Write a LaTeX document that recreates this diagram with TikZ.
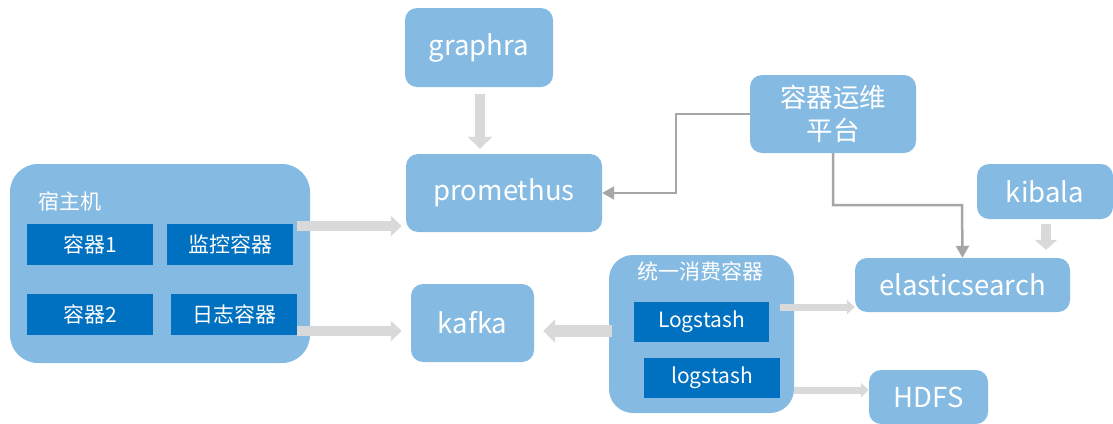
\documentclass[tikz,border=0pt]{standalone}
\usepackage{fontspec}
\setmainfont{Noto Sans CJK SC}
\usetikzlibrary{arrows.meta}
\definecolor{lb}{HTML}{85BBE2}
\definecolor{db}{HTML}{0070C0}
\definecolor{fa}{HTML}{D9D9D9}
\definecolor{dg}{HTML}{A6A6A6}
\tikzset{
  box/.style={fill=lb, rounded corners=12pt, text=white, inner sep=0pt, font=\fontsize{27.5}{30}\selectfont, align=center},
  bigbox/.style={fill=lb, rounded corners=28pt, inner sep=0pt},
  inbox/.style={fill=db, text=white, inner sep=0pt, font=\fontsize{21}{24}\selectfont},
  lbl/.style={text=white, inner sep=0pt, font=\fontsize{21}{24}\selectfont},
  fat/.style={draw=fa, line width=10pt, -{Triangle[length=11pt, width=20pt]}},
  thin/.style={draw=fa, line width=7pt, -{Triangle[length=8pt, width=14pt]}},
  conn/.style={draw=dg, line width=2.5pt, -{Triangle[length=12pt, width=13pt]}},
}
\begin{document}
\begin{tikzpicture}[x=1pt, y=-1pt]
\useasboundingbox (0,0) rectangle (1113,423);
% host
\node[bigbox, minimum width=300pt, minimum height=199pt] (host) at (160,263.5) {};
\node[lbl, anchor=west] (hostt) at (38,201) {宿主机};
\node[inbox, minimum width=126pt, minimum height=41pt] (c1) at (90,244.5) {容器1};
\node[inbox, minimum width=126pt, minimum height=41pt] (mon) at (230,244.5) {监控容器};
\node[inbox, minimum width=126pt, minimum height=41pt] (c2) at (90,314.5) {容器2};
\node[inbox, minimum width=126pt, minimum height=41pt] (log) at (234,314.5) {日志容器};
% top nodes
\node[box, minimum width=148pt, minimum height=79pt] (gra) at (479,47.5) {graphra};
\node[box, minimum width=196pt, minimum height=78pt] (prom) at (504,193) {promethus};
\node[box, minimum width=166pt, minimum height=78pt, font=\fontsize{26.5}{33}\selectfont] (ops) at (833,114) {容器运维\\平台};
\node[box, minimum width=136pt, minimum height=55pt] (kib) at (1045,191.5) {kibala};
\node[box, minimum width=215pt, minimum height=54pt] (es) at (962.5,285) {elasticsearch};
\node[box, minimum width=123pt, minimum height=78pt] (kafka) at (472.5,323) {kafka};
\node[box, minimum width=119pt, minimum height=54pt] (hdfs) at (928.5,397) {HDFS};
% consumer
\node[bigbox, rounded corners=24pt, minimum width=185pt, minimum height=158pt] (cons) at (701.5,334) {};
\node[lbl] (const) at (700,271) {统一消费容器};
\node[inbox, minimum width=135pt, minimum height=40pt] (l1) at (701.5,322) {Logstash};
\node[inbox, minimum width=136pt, minimum height=40pt] (l2) at (712,378) {logstash};
% arrows
\draw[fat, -{Triangle[length=12pt, width=24pt]}] ([xshift=1pt, yshift=-7pt]gra.south) -- ([xshift=1pt, yshift=5pt]gra.south |- prom.north);
\draw[fat] ([xshift=4pt, yshift=18.5pt]mon.east) -- ([xshift=-4pt, yshift=-33pt]prom.west);
\draw[fat] ([xshift=0pt, yshift=-16.5pt]log.east) -- ([xshift=-9pt, yshift=-8pt]kafka.west);
\draw[fat, line width=12pt, -{Triangle[length=12pt, width=23pt]}] ([xshift=3pt, yshift=3pt]cons.west) -- ([xshift=9pt, yshift=-8pt]kafka.east);
\draw[thin] ([xshift=11pt, yshift=15pt]l1.east) -- ([xshift=0pt, yshift=-22pt]es.west);
\draw[thin] ([xshift=14pt, yshift=-12pt]l2.east) -- ([xshift=0pt, yshift=7pt]hdfs.west);
\draw[fat, -{Triangle[length=10pt, width=22pt]}] ([xshift=1pt, yshift=-5pt]kib.south) -- ([xshift=1pt, yshift=8pt]kib.south |- es.north);
\draw[conn] (ops.west) -- ++(-74,0) |- (prom.east);
\draw[conn] (ops.south) |- (962,205) -- (es.north);
\end{tikzpicture}
\end{document}
